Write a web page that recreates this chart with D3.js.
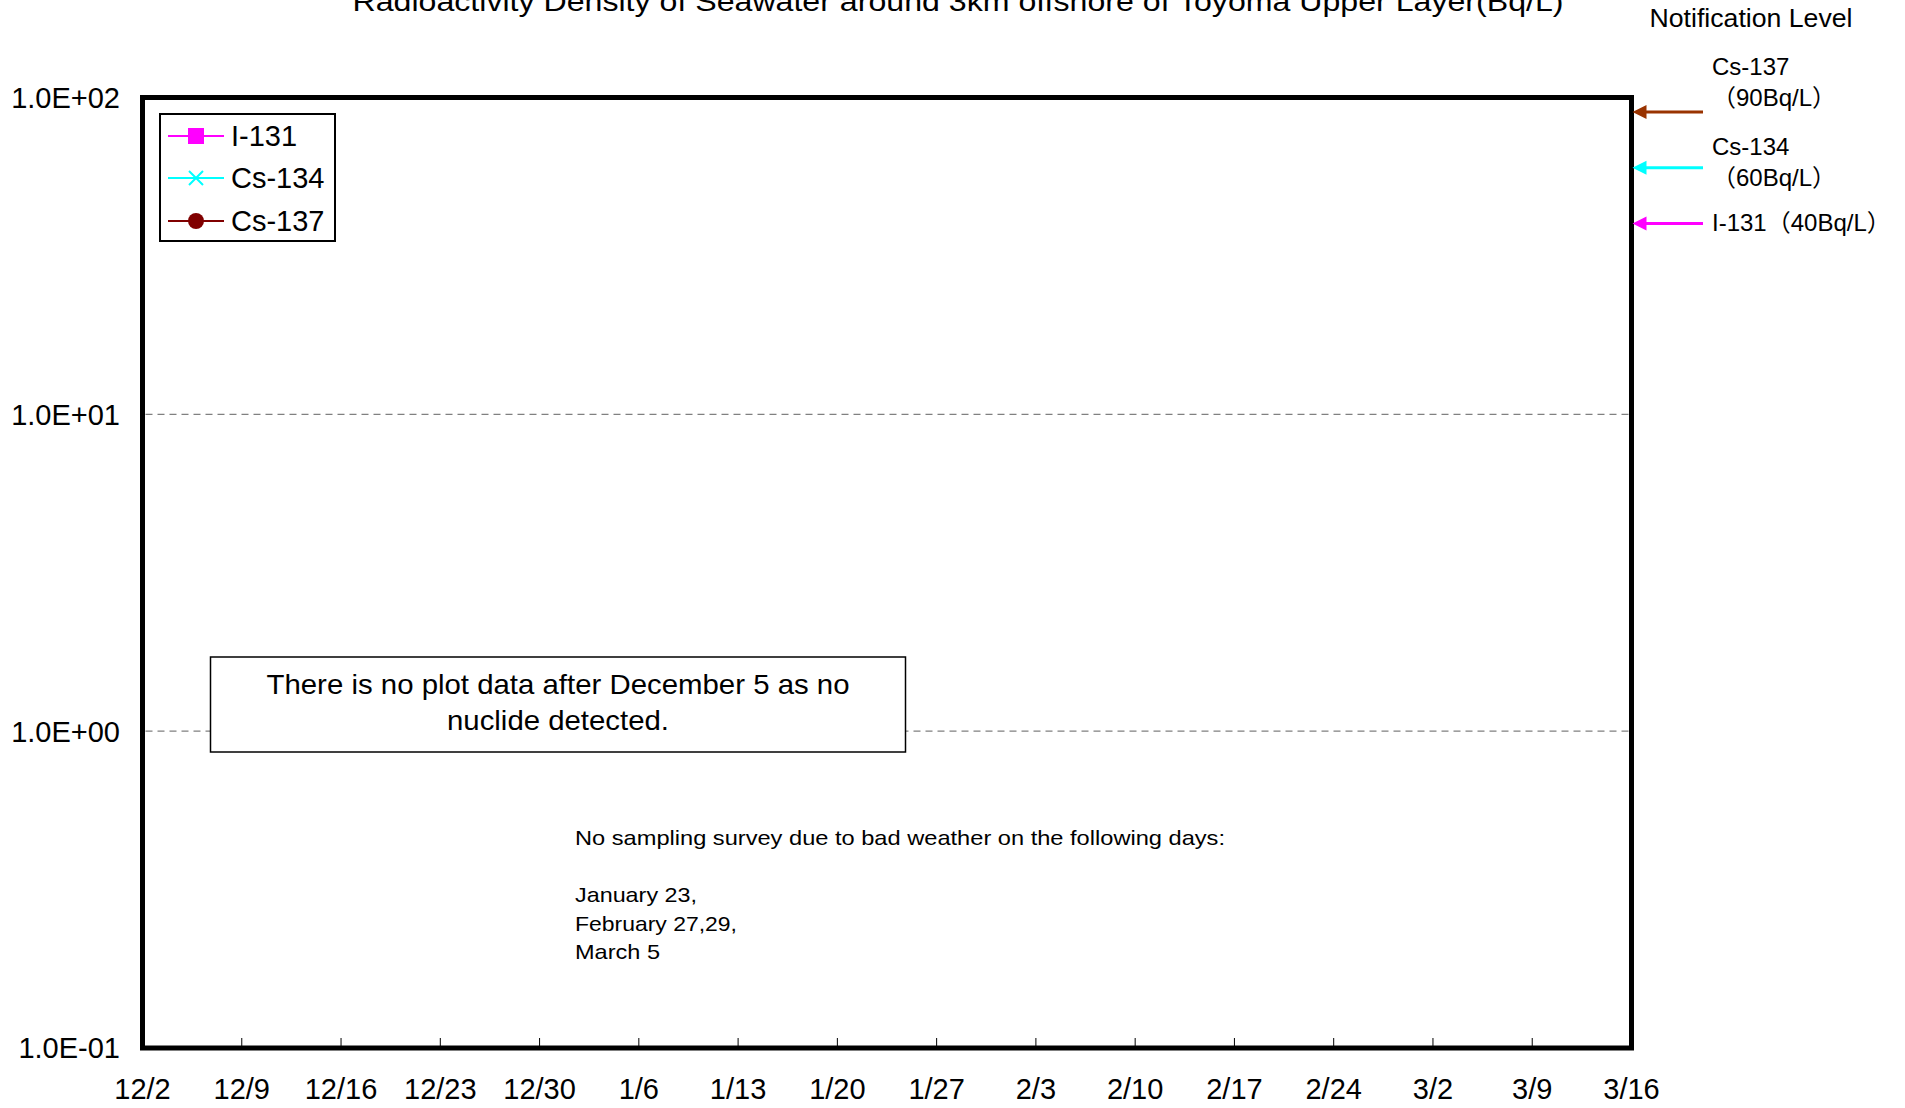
<!DOCTYPE html>
<html>
<head>
<meta charset="utf-8">
<script src="https://cdn.jsdelivr.net/npm/d3@7"></script>
<style>
  html, body { margin: 0; padding: 0; background: #fff; }
  svg { display: block; }
  text { font-family: "Liberation Sans", Arial, "Noto Sans CJK JP", sans-serif; fill: #000; }
</style>
</head>
<body>
<svg id="chart" width="1905" height="1108"></svg>
<script>
// ---------------- DATA ----------------
const titleText = "Radioactivity Density of Seawater around 3km offshore of Toyoma Upper Layer(Bq/L)";
const xTickLabels = ["12/2","12/9","12/16","12/23","12/30","1/6","1/13","1/20","1/27","2/3","2/10","2/17","2/24","3/2","3/9","3/16"];
const xStart = "2011-12-02";
const xEnd = "2012-03-16";
const yTickValues = [0.1, 1, 10, 100];
const yTickLabels = ["1.0E-01","1.0E+00","1.0E+01","1.0E+02"];
const seriesNames = ["I-131","Cs-134","Cs-137"];
// No nuclide detected after December 5 -> no plotted points in this window
const i131Values = [];
const cs134Values = [];
const cs137Values = [];
const notifyNames = ["Cs-137","Cs-134","I-131"];
const notifyLevels = [90, 60, 40];
const notifyLabels = ["（90Bq/L）","（60Bq/L）","（40Bq/L）"];
const boxNoteLines = ["There is no plot data after December 5 as no","nuclide detected."];
const weatherNoteLines = ["No sampling survey due to bad weather on the following days:","","January 23,","February 27,29,","March 5"];

// ---------------- LAYOUT ----------------
const svg = d3.select("#chart");
const L = 142.5, R = 1631.5, T = 97.5, B = 1048;
const parse = d3.timeParse("%Y-%m-%d");
const x = d3.scaleTime().domain([parse(xStart), parse(xEnd)]).range([L, R]);
const y = d3.scaleLog().domain([0.1, 100]).range([B, T]);
const weekTicks = d3.range(xTickLabels.length).map(i => d3.timeDay.offset(parse(xStart), i * 7));

const seriesColors = ["#FF00FF", "#00FFFF", "#800000"];
const arrowColors = ["#993300", "#00FFFF", "#FF00FF"];

// title
svg.append("text")
  .attr("x", 958).attr("y", 11)
  .attr("text-anchor", "middle")
  .attr("font-size", 28)
  .attr("textLength", 1211).attr("lengthAdjust", "spacingAndGlyphs")
  .text(titleText);

// gridlines (dashed)
svg.append("g").selectAll("line")
  .data([1, 10])
  .join("line")
  .attr("x1", L + 3).attr("x2", R - 3)
  .attr("y1", d => y(d)).attr("y2", d => y(d))
  .attr("stroke", "#808080").attr("stroke-width", 1.2)
  .attr("stroke-dasharray", "7,5");

// x tick marks (inside, up from bottom)
svg.append("g").selectAll("line")
  .data(weekTicks.slice(1, -1))
  .join("line")
  .attr("x1", d => x(d)).attr("x2", d => x(d))
  .attr("y1", B).attr("y2", B - 10)
  .attr("stroke", "#000").attr("stroke-width", 1);

// x labels
svg.append("g").selectAll("text")
  .data(weekTicks)
  .join("text")
  .attr("x", d => x(d)).attr("y", 1099)
  .attr("text-anchor", "middle")
  .attr("font-size", 29)
  .text((d, i) => xTickLabels[i]);

// y labels
svg.append("g").selectAll("text")
  .data(yTickValues)
  .join("text")
  .attr("x", 120).attr("y", d => y(d))
  .attr("dy", "0.36em")
  .attr("text-anchor", "end")
  .attr("font-size", 29)
  .text((d, i) => yTickLabels[i]);

// series (empty)
const line = d3.line().x(d => x(parse(d.date))).y(d => y(d.value));
[i131Values, cs134Values, cs137Values].forEach((vals, i) => {
  svg.append("path").datum(vals).attr("d", line).attr("fill", "none")
    .attr("stroke", seriesColors[i]).attr("stroke-width", 2);
});

// annotation box
svg.append("rect")
  .attr("x", 210.5).attr("y", 657).attr("width", 695).attr("height", 95)
  .attr("fill", "#fff").attr("stroke", "#000").attr("stroke-width", 1.5);
const boxWidths = [583, 222];
svg.append("g").selectAll("text")
  .data(boxNoteLines)
  .join("text")
  .attr("x", 558).attr("y", (d, i) => 694 + i * 36)
  .attr("text-anchor", "middle")
  .attr("font-size", 28)
  .attr("textLength", (d, i) => boxWidths[i]).attr("lengthAdjust", "spacingAndGlyphs")
  .text(d => d);

// weather note
const noteWidths = [650, 0, 122, 162, 85];
svg.append("g").selectAll("text")
  .data(weatherNoteLines)
  .join("text")
  .attr("x", 575).attr("y", (d, i) => 845 + i * 28.5)
  .attr("font-size", 21)
  .attr("textLength", (d, i) => noteWidths[i] || null).attr("lengthAdjust", "spacingAndGlyphs")
  .text(d => d);

// frame
svg.append("rect")
  .attr("x", L).attr("y", T).attr("width", R - L).attr("height", B - T)
  .attr("fill", "none").attr("stroke", "#000").attr("stroke-width", 5);

// legend
const lg = svg.append("g");
lg.append("rect").attr("x", 160).attr("y", 114).attr("width", 175).attr("height", 127)
  .attr("fill", "#fff").attr("stroke", "#000").attr("stroke-width", 2);
const legendY = [136, 178, 221];
seriesNames.forEach((name, i) => {
  const gy = legendY[i];
  lg.append("line").attr("x1", 168).attr("x2", 224).attr("y1", gy).attr("y2", gy)
    .attr("stroke", seriesColors[i]).attr("stroke-width", 2);
  const cx = 196;
  if (i === 0) {
    lg.append("rect").attr("x", cx - 8).attr("y", gy - 8).attr("width", 16).attr("height", 16)
      .attr("fill", seriesColors[i]);
  } else if (i === 1) {
    lg.append("path").attr("d", `M${cx-7},${gy-7}L${cx+7},${gy+7}M${cx-7},${gy+7}L${cx+7},${gy-7}`)
      .attr("stroke", seriesColors[i]).attr("stroke-width", 2);
  } else {
    lg.append("circle").attr("cx", cx).attr("cy", gy).attr("r", 8).attr("fill", seriesColors[i]);
  }
  lg.append("text").attr("x", 231).attr("y", gy).attr("dy", "0.36em")
    .attr("font-size", 29).text(name);
});

// notification level
svg.append("text").attr("x", 1751).attr("y", 27).attr("text-anchor", "middle")
  .attr("font-size", 25).attr("textLength", 203).attr("lengthAdjust", "spacingAndGlyphs")
  .text("Notification Level");

notifyLevels.forEach((v, i) => {
  const yy = y(v);
  const g = svg.append("g");
  g.append("line").attr("x1", 1703).attr("x2", R + 12).attr("y1", yy).attr("y2", yy)
    .attr("stroke", arrowColors[i]).attr("stroke-width", 3);
  g.append("path").attr("d", `M${R + 1},${yy}L${R + 15},${yy - 7}L${R + 15},${yy + 7}Z`)
    .attr("fill", arrowColors[i]);
});
// labels
svg.append("text").attr("x", 1712).attr("y", 75).attr("font-size", 24).text(notifyNames[0]);
svg.append("text").attr("x", 1712).attr("y", 106).attr("font-size", 24).text(notifyLabels[0]);
svg.append("text").attr("x", 1712).attr("y", 155).attr("font-size", 24).text(notifyNames[1]);
svg.append("text").attr("x", 1712).attr("y", 186).attr("font-size", 24).text(notifyLabels[1]);
svg.append("text").attr("x", 1712).attr("y", 231).attr("font-size", 24).text(notifyNames[2] + notifyLabels[2]);
</script>
</body>
</html>
